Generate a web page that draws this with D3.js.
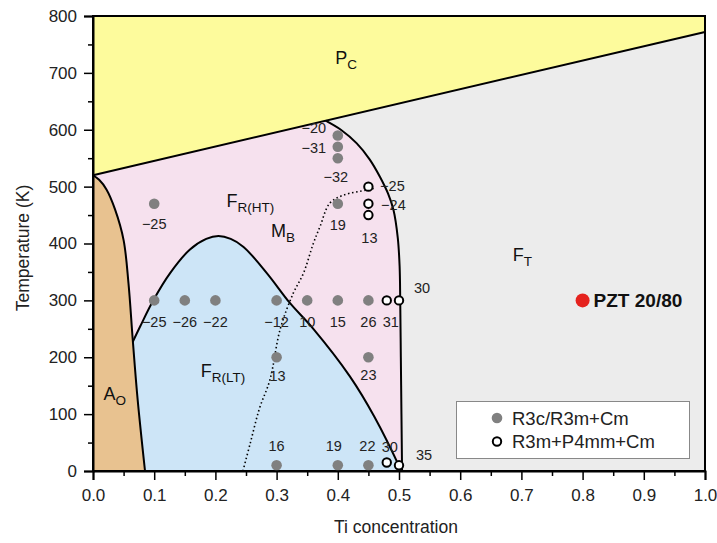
<!DOCTYPE html>
<html>
<head>
<meta charset="utf-8">
<script src="https://cdn.jsdelivr.net/npm/d3@7"></script>
<style>
  body { margin: 0; background: #fff; }
  svg text { font-family: "Liberation Sans", Arial, Helvetica, sans-serif; }
</style>
</head>
<body>
<svg id="chart" width="717" height="543"></svg>
<script>
// ---- data ----
const xTicks = [0, 0.1, 0.2, 0.3, 0.4, 0.5, 0.6, 0.7, 0.8, 0.9, 1.0];
const yTicks = [0, 100, 200, 300, 400, 500, 600, 700, 800];

// Paraelectric boundary (straight line, Ti fraction -> K)
const pcLine = [[0, 520], [1.0, 772]];
// Tetragonal boundary
const ftBoundary = [[0.38, 616], [0.405, 600], [0.431, 576], [0.452, 548], [0.469, 517],
  [0.482, 488], [0.491, 459], [0.498, 410], [0.501, 360], [0.502, 300], [0.503, 200],
  [0.504, 100], [0.505, 0]];
// Antiferroelectric boundary
const aoBoundary = [[0, 520], [0.01, 512], [0.022, 495], [0.036, 460], [0.05, 406],
  [0.058, 330], [0.065, 230], [0.073, 125], [0.085, 0]];
// Low-temperature rhombohedral dome
const ltDome = [[0.065, 227], [0.077, 254], [0.099, 301], [0.126, 348], [0.158, 389],
  [0.185, 408], [0.205, 413], [0.225, 408], [0.246, 394], [0.284, 348], [0.322, 295],
  [0.36, 250], [0.42, 166], [0.46, 95], [0.503, 2]];
// Monoclinic M_B boundary (dotted)
const mbBoundary = [[0.245, 0], [0.257, 49], [0.272, 110], [0.289, 160], [0.306, 250],
  [0.327, 312], [0.344, 348], [0.36, 400], [0.371, 430], [0.387, 471], [0.409, 485],
  [0.447, 494], [0.46, 497]];

// Measured compositions: [Ti, T (K), value]
const filledPts = [[0.1, 470, -25], [0.4, 590, -20], [0.4, 570, -31], [0.4, 550, -32],
  [0.4, 470, 19], [0.1, 300, -25], [0.15, 300, -26], [0.2, 300, -22], [0.3, 300, -12],
  [0.35, 300, 10], [0.4, 300, 15], [0.45, 300, 26], [0.3, 200, 13], [0.45, 200, 23],
  [0.3, 10, 16], [0.4, 10, 19], [0.45, 10, 22]];
const openPts = [[0.45, 500, -25], [0.45, 470, -24], [0.45, 450, 13], [0.48, 300, 31],
  [0.5, 300, 30], [0.48, 15, 30], [0.5, 10, 35]];
const pztPoint = [0.8, 300];

// label offsets (px) for each value label
const filledOffsets = [[0, 20], [-24, -7], [-24, 1], [-2, 19], [0, 21], [0, 22], [0, 22],
  [0, 22], [0, 22], [0, 22], [0, 22], [0, 22], [1, 19], [0, 18], [0, -19], [-4, -19], [-1, -19]];
const openOffsets = [[24, -1], [25, 1], [1, 23], [4, 22], [23, -12], [3, -15], [25, -10]];

const legendItems = ["R3c/R3m+Cm", "R3m+P4mm+Cm"];

// ---- layout ----
const svg = d3.select("#chart");
const L = 93, R = 705, T = 16, B = 471;
const x = d3.scaleLinear().domain([0, 1]).range([L, R]);
const y = d3.scaleLinear().domain([0, 800]).range([B, T]);

const colors = {
  pc: "#fdfb9c", ft: "#ececec", ht: "#f6e1ee", lt: "#cde5f7", ao: "#e8c290",
  dot: "#808080", red: "#e5221e"
};

const curve = d3.line().x(d => x(d[0])).y(d => y(d[1])).curve(d3.curveCatmullRom.alpha(0.5));
const straight = d3.line().x(d => x(d[0])).y(d => y(d[1]));

// sample a smooth curve into a dense polyline so it can be joined into polygons
function sample(pts) {
  const path = document.createElementNS("http://www.w3.org/2000/svg", "path");
  path.setAttribute("d", curve(pts));
  const len = path.getTotalLength();
  const out = [];
  for (let i = 0; i <= 200; i++) {
    const p = path.getPointAtLength(len * i / 200);
    out.push([x.invert(p.x), y.invert(p.y)]);
  }
  return out;
}
const ftS = sample(ftBoundary);
const aoS = sample(aoBoundary);
const domeS = sample(ltDome);

const poly = pts => "M" + pts.map(d => x(d[0]) + "," + y(d[1])).join("L") + "Z";

const g = svg.append("g");
// tetragonal background
g.append("rect").attr("x", L).attr("y", T).attr("width", R - L).attr("height", B - T)
  .attr("fill", colors.ft);
// paraelectric
g.append("path").attr("fill", colors.pc)
  .attr("d", poly([[0, 800], [1, 800], pcLine[1], pcLine[0]]));
// high-temperature rhombohedral
g.append("path").attr("fill", colors.ht)
  .attr("d", poly([pcLine[0], ...ftS, [0.085, 0], ...aoS.slice().reverse()]));
// low-temperature rhombohedral dome
g.append("path").attr("fill", colors.lt)
  .attr("d", poly([...domeS, [0.08, 0], [0.072, 140]]));
// antiferroelectric
g.append("path").attr("fill", colors.ao)
  .attr("d", poly([[0, 0], ...aoS]));

// boundaries
const lineG = svg.append("g").attr("fill", "none").attr("stroke", "#000").attr("stroke-width", 2);
lineG.append("path").attr("d", straight(pcLine));
lineG.append("path").attr("d", curve(ftBoundary));
lineG.append("path").attr("d", curve(aoBoundary));
lineG.append("path").attr("d", curve(ltDome));
svg.append("path").attr("d", curve(mbBoundary)).attr("fill", "none")
  .attr("stroke", "#000").attr("stroke-width", 1.6).attr("stroke-dasharray", "1.5,2.6");

// frame
svg.append("rect").attr("x", L).attr("y", T).attr("width", R - L).attr("height", B - T)
  .attr("fill", "none").attr("stroke", "#000").attr("stroke-width", 2);

// points
svg.append("g").selectAll("circle").data(filledPts).join("circle")
  .attr("cx", d => x(d[0])).attr("cy", d => y(d[1])).attr("r", 5.3).attr("fill", colors.dot);
svg.append("g").selectAll("circle").data(openPts).join("circle")
  .attr("cx", d => x(d[0])).attr("cy", d => y(d[1])).attr("r", 4.2)
  .attr("fill", "#fff").attr("stroke", "#000").attr("stroke-width", 2);

const fmt = v => (v < 0 ? "\u2212" + Math.abs(v) : String(v));
const lblG = svg.append("g").attr("font-size", 14.5).attr("fill", "#222")
  .attr("text-anchor", "middle").attr("dominant-baseline", "central");
filledPts.forEach((d, i) => {
  lblG.append("text").attr("x", x(d[0]) + filledOffsets[i][0]).attr("y", y(d[1]) + filledOffsets[i][1])
    .text(fmt(d[2]));
});
openPts.forEach((d, i) => {
  lblG.append("text").attr("x", x(d[0]) + openOffsets[i][0]).attr("y", y(d[1]) + openOffsets[i][1])
    .text(fmt(d[2]));
});

// region names
function region(px, py, main, sub) {
  const t = svg.append("text").attr("x", px).attr("y", py).attr("font-size", 18).attr("fill", "#111");
  t.append("tspan").text(main);
  t.append("tspan").attr("font-size", 13.5).attr("dy", 5).text(sub);
}
region(x(0.396), y(715), "P", "C");
region(x(0.218), y(465), "F", "R(HT)");
region(x(0.291), y(411), "M", "B");
region(x(0.686), y(370), "F", "T");
region(x(0.176), y(165), "F", "R(LT)");
region(x(0.017), y(125), "A", "O");

// PZT 20/80
svg.append("circle").attr("cx", x(pztPoint[0])).attr("cy", y(pztPoint[1])).attr("r", 7)
  .attr("fill", colors.red);
svg.append("text").attr("x", x(pztPoint[0]) + 11).attr("y", y(pztPoint[1]))
  .attr("dominant-baseline", "central").attr("font-size", 19).attr("font-weight", "bold")
  .attr("fill", "#111").text("PZT 20/80");

// legend
const lg = svg.append("g");
lg.append("rect").attr("x", 456.5).attr("y", 401.5).attr("width", 233).attr("height", 57)
  .attr("fill", "#fff").attr("stroke", "#888").attr("stroke-width", 1);
lg.append("circle").attr("cx", 497).attr("cy", 418).attr("r", 5.3).attr("fill", colors.dot);
lg.append("circle").attr("cx", 497).attr("cy", 441.5).attr("r", 4.2).attr("fill", "#fff")
  .attr("stroke", "#000").attr("stroke-width", 2);
legendItems.forEach((t, i) => {
  lg.append("text").attr("x", 512).attr("y", 418 + i * 23.5).attr("dominant-baseline", "central")
    .attr("font-size", 18.5).attr("fill", "#222").text(t);
});

// axes
const xAxis = svg.append("g").attr("transform", `translate(0,${B})`)
  .call(d3.axisBottom(x).tickValues(xTicks).tickFormat(d3.format(".1f")).tickSize(9).tickPadding(9));
svg.append("g").attr("transform", `translate(0,${B})`)
  .call(d3.axisBottom(x).tickValues(d3.range(0.05, 1, 0.1)).tickFormat("").tickSize(5))
  .call(s => s.select(".domain").remove());
const yAxis = svg.append("g").attr("transform", `translate(${L},0)`)
  .call(d3.axisLeft(y).tickValues(yTicks).tickSize(9).tickPadding(7));
svg.append("g").attr("transform", `translate(${L},0)`)
  .call(d3.axisLeft(y).tickValues(d3.range(50, 800, 100)).tickFormat("").tickSize(5))
  .call(s => s.select(".domain").remove());
svg.selectAll(".tick line").attr("stroke", "#000").attr("stroke-width", 1.5);
svg.selectAll(".domain").attr("stroke", "#000").attr("stroke-width", 2);
[xAxis, yAxis].forEach(a => a.selectAll("text").attr("font-size", 17).attr("fill", "#222")
  .attr("font-family", "Liberation Sans, Arial, sans-serif"));

svg.append("text").attr("x", (L + R) / 2 - 3).attr("y", 533).attr("text-anchor", "middle")
  .attr("font-size", 17.5).attr("fill", "#222").text("Ti concentration");
svg.append("text").attr("transform", `translate(29,248) rotate(-90)`)
  .attr("text-anchor", "middle").attr("font-size", 17.5).attr("fill", "#222").text("Temperature (K)");
</script>
</body>
</html>
